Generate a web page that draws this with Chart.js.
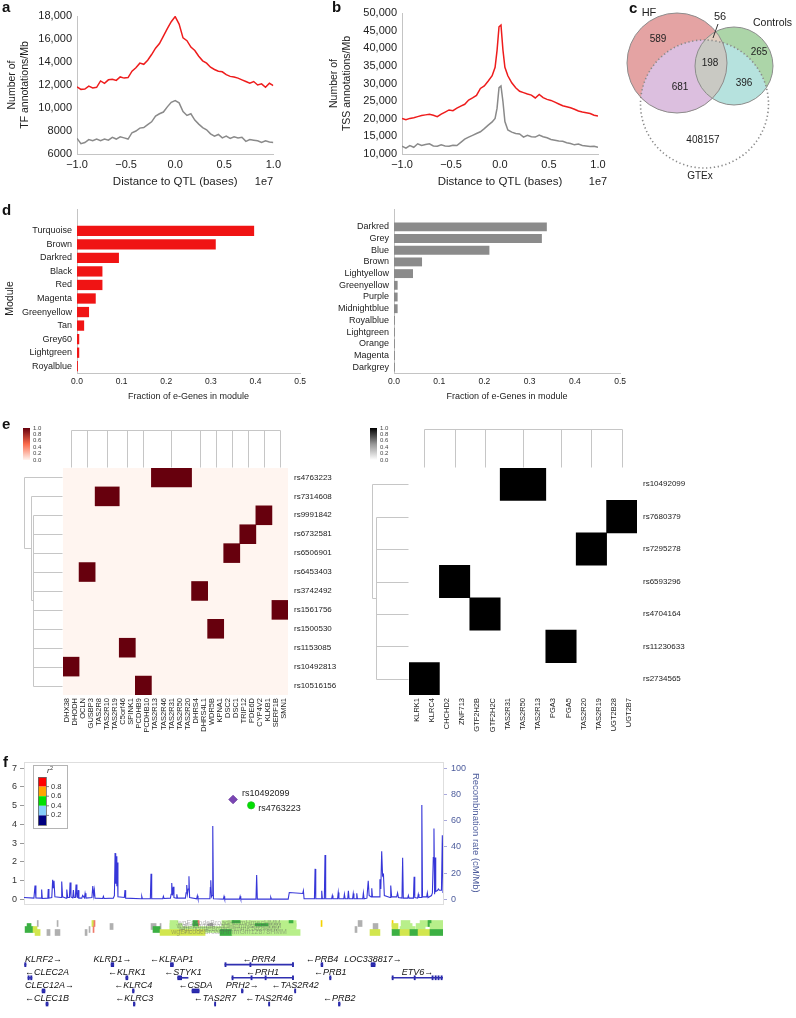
<!DOCTYPE html>
<html>
<head>
<meta charset="utf-8">
<script src="https://cdn.jsdelivr.net/npm/chart.js@4.4.0/dist/chart.umd.min.js"></script>
<style>
  body { margin: 0; background: #fff; }
  #page { position: relative; width: 796px; height: 1018px; overflow: hidden; font-family: "Liberation Sans", Arial, sans-serif; }
  canvas { position: absolute; }
  .lab { position: absolute; font-weight: bold; font-size: 15px; line-height: 15px; color: #111; }
</style>
</head>
<body>
<div id="page">
  <canvas id="cA" width="285" height="200" style="left:0;top:0"></canvas>
  <canvas id="cB" width="315" height="200" style="left:300px;top:0"></canvas>
  <canvas id="cC" width="196" height="200" style="left:600px;top:0"></canvas>
  <canvas id="cD1" width="310" height="205" style="left:0;top:200px"></canvas>
  <canvas id="cD2" width="330" height="205" style="left:300px;top:200px"></canvas>
  <canvas id="cE1" width="340" height="330" style="left:0;top:420px"></canvas>
  <canvas id="cE2" width="380" height="330" style="left:340px;top:420px"></canvas>
  <canvas id="cF" width="485" height="163" style="left:0;top:750px"></canvas>
  <canvas id="cT" width="485" height="30" style="left:0;top:912px"></canvas>
  <canvas id="cG" width="485" height="76" style="left:0;top:942px"></canvas>
  <div class="lab" style="left:2px;top:-1px">a</div>
  <div class="lab" style="left:332px;top:-1px">b</div>
  <div class="lab" style="left:629px;top:0px">c</div>
  <div class="lab" style="left:2px;top:202px">d</div>
  <div class="lab" style="left:2px;top:416px">e</div>
  <div class="lab" style="left:3px;top:754px">f</div>
</div>
<script>
// ---------- data ----------

// a: TF annotations around QTL (distance in units of 1e7 bases)
const distA = [-1.00,-0.96,-0.92,-0.88,-0.84,-0.80,-0.76,-0.72,-0.68,-0.64,-0.60,-0.56,-0.52,-0.48,-0.44,-0.40,-0.36,-0.32,-0.28,-0.24,-0.20,-0.16,-0.12,-0.08,-0.04,0.00,0.04,0.08,0.12,0.16,0.20,0.24,0.28,0.32,0.36,0.40,0.44,0.48,0.52,0.56,0.60,0.64,0.68,0.72,0.76,0.80,0.84,0.88,0.92,0.96,1.00];
const tfQtl = [11840,11620,11650,11900,11750,11800,12350,12150,12450,12500,12400,12700,12600,12650,13200,13500,13900,13800,14150,14650,15200,15600,16250,16900,17500,17950,17300,16100,15850,15300,15000,14500,14100,13900,13550,13350,13200,13150,12900,12750,12700,12600,12450,12300,12150,12300,12000,12100,11800,12150,11950];
const tfRandom = [7360,6900,7000,7250,7150,7300,7150,7300,7200,7450,7300,7500,7400,7300,7850,8000,8250,8300,8550,8800,9300,9500,9650,10100,10500,10650,10450,9700,9350,9500,8950,8600,8300,8100,7750,7550,7700,7400,7550,7350,7500,7400,7450,7100,7250,7200,7150,7000,7150,7050,7000];

// b: TSS annotations around QTL
const distB = [-1.00,-0.96,-0.92,-0.88,-0.84,-0.80,-0.76,-0.72,-0.68,-0.64,-0.60,-0.56,-0.52,-0.48,-0.44,-0.40,-0.36,-0.32,-0.28,-0.24,-0.20,-0.16,-0.12,-0.08,-0.05,-0.03,-0.01,0.01,0.03,0.05,0.08,0.12,0.16,0.20,0.24,0.28,0.32,0.36,0.40,0.44,0.48,0.52,0.56,0.60,0.64,0.68,0.72,0.76,0.80,0.84,0.88,0.92,0.96,1.00];
const tssQtl = [20100,19700,20100,20300,20600,20900,21100,21300,21000,20600,21300,21900,22500,22300,23000,23600,24100,25300,25900,26600,28600,29300,30700,32200,34600,39400,46100,46600,39500,34600,32200,30200,28800,27800,27400,27000,26700,25900,26900,26000,25500,25200,24700,24200,23700,23400,23100,22700,22200,21900,21700,21500,21000,20800];
const tssRandom = [12200,11650,12400,11900,12900,12400,12700,12900,12300,12200,12600,12300,12200,12500,12400,13300,14200,14800,15300,15800,16300,17200,18200,19100,20100,23000,28800,29300,24900,19200,16800,16200,15800,15700,14800,15300,14900,14800,15400,14900,14600,14100,13900,13700,13600,13200,13000,12600,12800,12400,12300,12100,12200,11900];

// c: overlap of e-Genes
const vennNames = ['HF', 'Controls', 'GTEx'];
const vennRegions = ['HF only', 'HF+Controls', 'Controls only', 'all three', 'HF+GTEx', 'Controls+GTEx', 'GTEx only'];
const vennCounts = [589, 56, 265, 198, 681, 396, 408157];

// d: fraction of e-Genes per module
const modHF = ['Turquoise','Brown','Darkred','Black','Red','Magenta','Greenyellow','Tan','Grey60','Lightgreen','Royalblue'];
const fracHF = [0.397, 0.311, 0.094, 0.057, 0.057, 0.042, 0.027, 0.016, 0.005, 0.005, 0.002];
const modCtl = ['Darkred','Grey','Blue','Brown','Lightyellow','Greenyellow','Purple','Midnightblue','Royalblue','Lightgreen','Orange','Magenta','Darkgrey'];
const fracCtl = [0.338, 0.327, 0.211, 0.062, 0.042, 0.008, 0.008, 0.008, 0.002, 0.002, 0.002, 0.002, 0.002];

// e: SNP x gene association
const leftGenes = ['DHX38','DHODH','OCLN','GUSBP3','TAS2R8','TAS2R10','TAS2R19','C5orf46','SPINK1','PCDHB9','PCDHB10','TAS2R13','TAS2R46','TAS2R31','TAS2R50','TAS2R20','DHRS4','DHRS4L1','WDR5B','KPNA1','DSC2','DSC1','TRIP12','PDE6D','CYP4V2','KLKB1','SERF1B','SMN1'];
const leftSnps = ['rs4763223','rs7314608','rs9991842','rs6732581','rs6506901','rs6453403','rs3742492','rs1561756','rs1500530','rs1153085','rs10492813','rs10516156'];
const leftHits = [
  ['TAS2R13','TAS2R46','TAS2R31','TAS2R50','TAS2R20'],
  ['TAS2R8','TAS2R10','TAS2R19'],
  ['CYP4V2','KLKB1'],
  ['TRIP12','PDE6D'],
  ['DSC2','DSC1'],
  ['OCLN','GUSBP3'],
  ['DHRS4','DHRS4L1'],
  ['SERF1B','SMN1'],
  ['WDR5B','KPNA1'],
  ['C5orf46','SPINK1'],
  ['DHX38','DHODH'],
  ['PCDHB9','PCDHB10']
];
const rightGenes = ['KLRK1','KLRC4','CHCHD2','ZNF713','GTF2H2B','GTF2H2C','TAS2R31','TAS2R50','TAS2R13','PGA3','PGA5','TAS2R20','TAS2R19','UGT2B28','UGT2B7'];
const rightSnps = ['rs10492099','rs7680379','rs7295278','rs6593296','rs4704164','rs11230633','rs2734565'];
const rightHits = [
  ['TAS2R31','TAS2R50','TAS2R13'],
  ['UGT2B28','UGT2B7'],
  ['TAS2R20','TAS2R19'],
  ['CHCHD2','ZNF713'],
  ['GTF2H2B','GTF2H2C'],
  ['PGA3','PGA5'],
  ['KLRK1','KLRC4']
];
const scaleTicks = ['1.0','0.8','0.6','0.4','0.2','0.0'];

// f: regional plot, chr12 (Mb)
const snpIds = ['rs10492099', 'rs4763223'];
const snpPos = [10.948, 11.030];
const snpLogP = [5.33, 5.02];
const snpR2 = [1.0, 0.5];
const logPTicks = [0, 1, 2, 3, 4, 5, 6, 7];
const recTicks = [0, 20, 40, 60, 80, 100];
const ldBreaks = ['0.8', '0.6', '0.4', '0.2'];
const recPos = [10.000,10.045,10.050,10.054,10.078,10.080,10.083,10.108,10.110,10.113,10.126,10.130,10.133,10.136,10.140,10.168,10.171,10.175,10.191,10.194,10.198,10.206,10.209,10.213,10.221,10.224,10.227,10.233,10.236,10.240,10.244,10.246,10.249,10.262,10.266,10.274,10.277,10.281,10.308,10.312,10.316,10.319,10.322,10.357,10.360,10.363,10.405,10.410,10.413,10.416,10.419,10.421,10.423,10.426,10.455,10.458,10.461,10.531,10.534,10.537,10.573,10.576,10.579,10.629,10.632,10.635,10.664,10.667,10.670,10.673,10.677,10.680,10.690,10.693,10.696,10.732,10.735,10.738,10.741,10.745,10.748,10.751,10.783,10.786,10.789,10.843,10.845,10.847,10.850,10.853,10.856,10.859,10.904,10.907,10.910,10.977,10.980,10.983,11.052,11.055,11.058,11.116,11.119,11.122,11.198,11.203,11.264,11.267,11.270,11.317,11.320,11.323,11.347,11.350,11.353,11.362,11.365,11.368,11.395,11.398,11.401,11.422,11.425,11.428,11.450,11.453,11.456,11.468,11.471,11.474,11.490,11.493,11.496,11.506,11.509,11.512,11.536,11.539,11.542,11.555,11.558,11.561,11.565,11.574,11.577,11.580,11.610,11.614,11.618,11.622,11.626,11.630,11.634,11.660,11.663,11.667,11.690,11.694,11.698,11.714,11.717,11.720,11.740,11.743,11.746,11.766,11.769,11.772,11.785,11.788,11.791,11.801,11.804,11.807,11.826,11.829,11.832,11.848,11.852,11.856,11.859,11.862,11.864,11.867,11.876,11.879,11.884,11.893,11.897,11.900];
const recRate = [1.5,1.0,10.7,1.2,1.0,7.6,0.8,1.0,7.9,1.0,1.5,15.0,9.0,14.3,2.0,1.5,13.6,2.0,1.0,7.6,1.5,1.5,12.9,2.0,1.2,7.1,1.5,1.5,11.4,2.0,1.5,7.1,1.0,1.0,3.0,1.2,4.7,1.0,1.5,10.3,3.0,7.1,1.0,0.8,2.4,0.8,1.0,3.0,35.3,12.0,32.9,10.0,28.1,2.0,1.5,7.1,1.0,0.5,2.4,0.5,0.5,19.6,0.5,0.5,2.4,0.8,1.0,4.0,12.6,3.0,9.6,1.5,1.0,4.0,1.0,1.0,5.0,11.0,4.0,8.0,17.6,1.5,0.5,2.9,0.5,0.5,9.0,14.7,2.0,3.0,56.0,0.5,0.3,2.4,0.3,0.3,2.4,0.3,0.3,18.6,0.3,0.3,1.7,0.3,0.3,5.3,4.6,6.7,0.5,0.5,23.3,0.5,0.5,6.7,0.5,0.5,33.9,0.5,0.5,3.0,0.5,0.5,5.4,0.5,0.5,4.0,0.5,0.5,6.7,0.5,0.5,4.5,0.5,0.5,4.7,0.5,0.5,5.0,0.5,1.0,8.0,14.3,3.0,2.0,8.6,2.0,2.0,15.4,8.0,36.7,18.0,19.0,3.0,1.5,10.7,2.0,2.0,5.0,1.5,1.0,31.8,1.0,1.0,3.0,1.0,1.0,17.3,1.5,1.0,4.0,1.5,1.5,72.0,2.0,2.0,5.0,1.5,3.0,5.0,32.0,54.0,4.0,32.0,6.0,7.0,8.0,7.0,7.0,49.0,5.0];

// chromatin state tracks
const trackNames = ['wgEncodeBroadHmmHmecHMM','wgEncodeBroadHmmHsmmHMM','wgEncodeBroadHmmK562HMM','wgEncodeBroadHmmGm12878HMM'];
const trackStates = ['Txn elongation','Weak txn','Weak enhancer','Strong enhancer','Repressed','Promoter','Insulator-like'];
const trackRow   = [0,0,0,0,0,0,0,0,0,0,0,0,0,0,0,0, 1,1,1,1,1,1,1,1,1,1,1,1,1,1, 2,2,2,2,2,2,2,2,2,2, 3,3,3,3,3,3,3,3,3,3,3,3,3];
const trackStart = [10.150,10.308,10.317,10.662,10.766,10.789,10.898,10.943,11.202,11.347,11.515,11.669,11.710,11.796,11.832,10.060,
                    10.014,10.390,10.576,10.617,10.662,10.766,10.834,10.898,11.048,11.583,11.669,11.714,11.778,11.841,
                    10.005,10.041,10.295,10.313,10.585,10.662,11.501,11.705,11.760,11.855,
                    10.050,10.104,10.141,10.277,10.617,10.889,10.943,11.569,11.669,11.705,11.750,11.787,11.841];
const trackEnd   = [10.154,10.317,10.322,10.698,10.789,10.794,11.234,10.980,11.220,11.351,11.533,11.673,11.750,11.900,11.846,10.064,
                    10.032,10.404,10.599,10.621,10.717,10.789,10.857,11.234,11.107,11.605,11.696,11.760,11.819,11.900,
                    10.041,10.059,10.299,10.317,10.617,11.206,11.510,11.714,11.774,11.870,
                    10.073,10.118,10.163,10.286,10.821,10.943,11.252,11.614,11.705,11.750,11.787,11.841,11.900];
const trackState = [4,2,5,1,0,5,1,0,0,3,4,3,1,1,0,4,
                    0,4,4,4,1,0,4,1,0,4,2,1,1,1,
                    0,2,4,5,0,1,4,1,1,1,
                    2,4,4,4,2,0,1,2,0,2,0,2,0];

// genes
const geneName   = ['KLRF2','KLRD1','KLRAP1','PRR4','PRB4','LOC338817','CLEC2A','KLRK1','STYK1','PRH1','PRB1','ETV6','CLEC12A','KLRC4','CSDA','PRH2','TAS2R42','CLEC1B','KLRC3','TAS2R7','TAS2R46','PRB2'];
const geneRow    = [0,0,0,0,0,0, 1,1,1,1,1,1, 2,2,2,2,2, 3,3,3,3,3];
const geneStrand = [1,1,-1,-1,-1,1, -1,-1,-1,-1,-1,1, 1,-1,-1,1,-1, -1,-1,-1,-1,-1];
const geneStart  = [10.003,10.395,10.664,10.911,11.347,11.574, 10.018,10.462,10.697,10.943,11.386,11.669, 10.082,10.492,10.762,10.986,11.227, 10.100,10.496,10.864,11.109,11.426];
const geneEnd    = [10.009,10.407,10.677,11.220,11.355,11.592, 10.036,10.471,10.744,11.220,11.392,11.900, 10.095,10.499,10.794,10.993,11.232, 10.109,10.503,10.868,11.113,11.433];
const exonGene   = [0,1,2,3,3,3,4,5,6,6,7,8,9,9,9,9,10,11,11,11,11,11,11,12,13,14,15,16,17,18,19,20,21];
const exonStart  = [10.003,10.395,10.664,10.911,11.024,11.217,11.347,11.574,10.018,10.030,10.462,10.697,10.943,11.029,11.093,11.217,11.386,11.669,11.769,11.850,11.864,11.877,11.891,10.082,10.492,10.762,10.986,11.227,10.100,10.496,10.864,11.109,11.426];
const exonEnd    = [10.009,10.407,10.677,10.914,11.027,11.220,11.355,11.592,10.024,10.036,10.471,10.715,10.946,11.032,11.096,11.220,11.392,11.672,11.772,11.853,11.867,11.880,11.894,10.095,10.499,10.794,10.993,11.232,10.109,10.503,10.868,11.113,11.433];

// ---------- setup ----------
const FONT = '"Liberation Sans", Arial, Helvetica, sans-serif';
Chart.defaults.font.family = FONT;
Chart.defaults.color = '#222';
Chart.defaults.animation = false;
Chart.defaults.responsive = false;
Chart.defaults.devicePixelRatio = 1;
Chart.defaults.layout.autoPadding = false;
Chart.defaults.plugins.legend.display = false;
Chart.defaults.plugins.tooltip.enabled = false;

const AXIS = '#c4c4c4';
function fit(size) {
  return function (s) { if (s.isHorizontal()) s.height = size; else s.width = size; };
}
const minus = v => (v < 0 ? '\u2212' + Math.abs(v).toFixed(1) : v.toFixed(1));
const comma = v => (v >= 10000 ? v.toLocaleString('en-US') : String(v));

// "1e7" offset label under the x axis
const offsetLabel = {
  id: 'offLab',
  afterDraw(ch, args, o) {
    const c = ch.ctx;
    c.save();
    c.font = '11px ' + FONT; c.fillStyle = '#222';
    c.textAlign = 'center'; c.textBaseline = 'middle';
    c.fillText('1e7', o.x, 182);
    c.restore();
  }
};

function distAxis() {
  return {
    type: 'linear', min: -1, max: 1,
    ticks: { stepSize: 0.5, callback: minus, font: { size: 11 }, padding: 4 },
    grid: { display: false, drawTicks: false },
    border: { color: AXIS },
    title: { display: true, text: 'Distance to QTL (bases)', font: { size: 11.5 }, padding: { top: 0, bottom: 11 } },
    afterFit: fit(46)
  };
}
function lineSet(xs, ys, color) {
  return { data: xs.map((d, i) => ({ x: d, y: ys[i] })), borderColor: color, borderWidth: 1.5, pointRadius: 0, tension: 0 };
}

// ---------- a ----------
new Chart(document.getElementById('cA'), {
  type: 'line',
  data: { datasets: [lineSet(distA, tfQtl, '#ee1c1c'), lineSet(distA, tfRandom, '#8a8a8a')] },
  options: {
    layout: { padding: { top: 16, right: 7 } },
    plugins: { offLab: { x: 264 } },
    scales: {
      x: distAxis(),
      y: {
        min: 6000, max: 18000,
        ticks: { stepSize: 2000, callback: comma, font: { size: 11 }, padding: 5 },
        grid: { display: false, drawTicks: false },
        border: { color: AXIS },
        title: { display: true, text: ['Number of', 'TF annotations/Mb'], font: { size: 10.5 }, padding: { top: 6 } },
        afterFit: fit(77)
      }
    }
  },
  plugins: [offsetLabel]
});

// ---------- b ----------
new Chart(document.getElementById('cB'), {
  type: 'line',
  data: { datasets: [lineSet(distB, tssQtl, '#ee1c1c'), lineSet(distB, tssRandom, '#8a8a8a')] },
  options: {
    layout: { padding: { top: 13, right: 17 } },
    plugins: { offLab: { x: 298 } },
    scales: {
      x: distAxis(),
      y: {
        min: 10000, max: 50000,
        ticks: { stepSize: 5000, callback: comma, font: { size: 11 }, padding: 5 },
        grid: { display: false, drawTicks: false },
        border: { color: AXIS },
        title: { display: true, text: ['Number of', 'TSS annotations/Mb'], font: { size: 10.5 }, padding: { top: 28 } },
        afterFit: fit(102)
      }
    }
  },
  plugins: [offsetLabel]
});

// ---------- c (Venn) ----------
// circle layout in canvas units: HF, Controls, GTEx
const vennCx = [77, 134, 104.5], vennCy = [63, 66, 104], vennR = [50, 39, 64];
const vennLabX = [58, 120, 159, 110, 80, 144, 103], vennLabY = [39, 17, 52, 63, 87, 83, 140];
const vennFill = ['#e4a3a3', '#acd5a8', '#dcbfdf', '#b6e2de', '#e2cdbf', '#c9c9c3'];
function vennCircles(ch) {
  const xs = ch.scales.x, ys = ch.scales.y;
  return vennCx.map((cx, i) => ({
    x: xs.getPixelForValue(cx), y: ys.getPixelForValue(vennCy[i]),
    r: Math.abs(xs.getPixelForValue(vennR[i]) - xs.getPixelForValue(0))
  }));
}
const vennDraw = {
  id: 'vennDraw',
  beforeDatasetsDraw(ch) {
    const c = ch.ctx, [H, K, G] = vennCircles(ch);
    const circ = o => { c.beginPath(); c.arc(o.x, o.y, o.r, 0, Math.PI * 2); };
    c.save();
    circ(H); c.fillStyle = vennFill[0]; c.fill();
    circ(K); c.fillStyle = vennFill[1]; c.fill();
    c.save(); circ(G); c.clip();
    circ(H); c.fillStyle = vennFill[2]; c.fill();
    circ(K); c.fillStyle = vennFill[3]; c.fill();
    c.restore();
    c.save(); circ(H); c.clip();
    circ(K); c.fillStyle = vennFill[4]; c.fill();
    c.clip(); circ(G); c.fillStyle = vennFill[5]; c.fill();
    c.restore();
    c.restore();
  },
  afterDatasetsDraw(ch) {
    const c = ch.ctx, G = vennCircles(ch)[2], xs = ch.scales.x, ys = ch.scales.y;
    c.save();
    c.setLineDash([1.3, 2.6]); c.lineWidth = 1.6; c.strokeStyle = '#8a8a8a';
    c.beginPath(); c.arc(G.x, G.y, G.r, 0, Math.PI * 2); c.stroke();
    c.setLineDash([]);
    c.lineWidth = 1; c.strokeStyle = '#333';
    c.beginPath(); c.moveTo(xs.getPixelForValue(118), ys.getPixelForValue(24)); c.lineTo(xs.getPixelForValue(113), ys.getPixelForValue(38)); c.stroke();
    c.fillStyle = '#222'; c.textAlign = 'center'; c.textBaseline = 'middle';
    vennCounts.forEach((n, i) => {
      c.font = (i === 1 ? '11px ' : '10px ') + FONT;
      c.fillText(String(n), xs.getPixelForValue(vennLabX[i]), ys.getPixelForValue(vennLabY[i]));
    });
    c.font = '11px ' + FONT;
    c.fillText(vennNames[0], xs.getPixelForValue(49), ys.getPixelForValue(13));
    c.textAlign = 'left'; c.font = '10.5px ' + FONT;
    c.fillText(vennNames[1], xs.getPixelForValue(153), ys.getPixelForValue(23));
    c.textAlign = 'center'; c.font = '10px ' + FONT;
    c.fillText(vennNames[2], xs.getPixelForValue(100), ys.getPixelForValue(176));
    c.restore();
  }
};
new Chart(document.getElementById('cC'), {
  type: 'bubble',
  data: { datasets: [{
    data: [0, 1].map(i => ({ x: vennCx[i], y: vennCy[i], r: vennR[i] })),
    backgroundColor: 'rgba(0,0,0,0)', borderColor: '#8c8c8c', borderWidth: 1, clip: false
  }] },
  options: {
    layout: { padding: 0, autoPadding: false },
    scales: {
      x: { type: 'linear', min: 0, max: 196, display: false },
      y: { type: 'linear', min: 0, max: 200, reverse: true, display: false }
    }
  },
  plugins: [vennDraw]
});

// ---------- d ----------
const axisTop = {
  id: 'axisTop',
  afterDraw(ch, args, o) {
    const c = ch.ctx, a = ch.chartArea;
    c.save(); c.strokeStyle = AXIS; c.lineWidth = 1;
    c.beginPath(); c.moveTo(Math.round(a.left) + 0.5, a.top - o.ext); c.lineTo(Math.round(a.left) + 0.5, a.top + 1); c.stroke();
    c.restore();
  }
};
function moduleChart(id, labels, values, color, yWidth, padTop, withTitle) {
  new Chart(document.getElementById(id), {
    type: 'bar',
    data: { labels: labels, datasets: [{ data: values, backgroundColor: color, barPercentage: 0.76, categoryPercentage: 1 }] },
    options: {
      indexAxis: 'y',
      layout: { padding: { top: padTop, right: 8 } },
      plugins: { axisTop: { ext: padTop - 9 } },
      scales: {
        x: {
          min: 0, max: 0.5,
          ticks: { stepSize: 0.1, callback: v => v.toFixed(1), font: { size: 8.5 }, padding: 4 },
          grid: { display: false, drawTicks: false },
          border: { color: AXIS },
          title: { display: true, text: 'Fraction of e-Genes in module', font: { size: 9 }, padding: { top: 0, bottom: 3 } },
          afterFit: fit(32)
        },
        y: {
          ticks: { autoSkip: false, font: { size: 9 }, padding: 5 },
          grid: { display: false, drawTicks: false },
          border: { color: AXIS },
          title: { display: withTitle, text: 'Module', font: { size: 10.5 }, padding: { top: 4 } },
          afterFit: fit(yWidth)
        }
      }
    },
    plugins: [axisTop]
  });
}
moduleChart('cD1', modHF, fracHF, '#f01414', 77, 24, true);
moduleChart('cD2', modCtl, fracCtl, '#8b8b8b', 94, 21, false);

// ---------- e ----------
function heatDecor(cfg) {
  return {
    id: 'heatDecor',
    beforeDatasetsDraw(ch) {
      const c = ch.ctx, a = ch.chartArea;
      c.save(); c.fillStyle = cfg.low; c.fillRect(a.left, a.top, a.right - a.left, a.bottom - a.top); c.restore();
    },
    afterDraw(ch) {
      const c = ch.ctx, a = ch.chartArea, xs = ch.scales.x, ys = ch.scales.y;
      const L = (x1, y1, x2, y2) => {
        c.beginPath();
        c.moveTo(Math.round(x1) + 0.5, Math.round(y1) + 0.5);
        c.lineTo(Math.round(x2) + 0.5, Math.round(y2) + 0.5);
        c.stroke();
      };
      c.save(); c.strokeStyle = '#c6c6c6'; c.lineWidth = 1;
      // column dendrogram (one leaf per SNP block)
      const cx = cfg.hits.map(h => {
        const idx = h.map(g => cfg.genes.indexOf(g));
        return xs.getPixelForValue((Math.min(...idx) + Math.max(...idx) + 1) / 2);
      });
      const top = a.top - cfg.colH;
      cx.forEach(x => L(x, a.top - 1, x, top));
      L(Math.min(...cx), top, Math.max(...cx), top);
      // row dendrogram
      const ry = cfg.snps.map((s, i) => ys.getPixelForValue(i));
      const n = ry.length, k0 = cfg.singles;
      const x0 = a.left - cfg.heights[0];
      for (let i = k0; i < n; i++) L(x0, ry[i], a.left - 1, ry[i]);
      L(x0, ry[k0], x0, ry[n - 1]);
      let nodeY = (ry[k0] + ry[n - 1]) / 2, nodeX = x0;
      for (let k = k0 - 1; k >= 0; k--) {
        const hx = a.left - cfg.heights[k0 - k];
        L(hx, ry[k], a.left - 1, ry[k]);
        L(hx, nodeY, nodeX, nodeY);
        L(hx, ry[k], hx, nodeY);
        nodeY = (ry[k] + nodeY) / 2; nodeX = hx;
      }
      // colour key
      const [bx, by, bw, bh] = cfg.cb;
      const g = c.createLinearGradient(0, by + bh, 0, by);
      g.addColorStop(0, cfg.low); g.addColorStop(0.5, cfg.mid); g.addColorStop(1, cfg.high);
      c.fillStyle = g; c.fillRect(bx, by, bw, bh);
      c.fillStyle = '#444'; c.font = '6px ' + FONT; c.textAlign = 'left'; c.textBaseline = 'middle';
      scaleTicks.forEach((t, i) => c.fillText(t, bx + bw + 3, by + i * bh / (scaleTicks.length - 1)));
      c.restore();
    }
  };
}
function heatChart(id, genes, snps, hits, color, padLeft, rightW, cfg) {
  const blocks = hits.map((h, r) => {
    const idx = h.map(g => genes.indexOf(g));
    return { x: [Math.min(...idx), Math.max(...idx) + 1], y: snps[r] };
  });
  new Chart(document.getElementById(id), {
    type: 'bar',
    data: { labels: snps, datasets: [{ data: blocks, backgroundColor: color, borderWidth: 0, barPercentage: 1, categoryPercentage: 1 }] },
    options: {
      indexAxis: 'y',
      layout: { padding: { left: padLeft, top: 48 } },
      scales: {
        x: {
          type: 'linear', min: 0, max: genes.length,
          afterBuildTicks: s => { s.ticks = genes.map((g, i) => ({ value: i + 0.5 })); },
          ticks: { autoSkip: false, minRotation: 90, maxRotation: 90, callback: (v, i) => genes[i], font: { size: 7.5 }, padding: 3, color: '#222' },
          grid: { display: false, drawTicks: false },
          border: { display: false },
          afterFit: fit(55)
        },
        y: {
          type: 'category', position: 'right',
          ticks: { autoSkip: false, font: { size: 8 }, padding: 6, color: '#222' },
          grid: { display: false, drawTicks: false },
          border: { display: false },
          afterFit: fit(rightW)
        }
      }
    },
    plugins: [heatDecor(Object.assign({ genes: genes, snps: snps, hits: hits }, cfg))]
  });
}
heatChart('cE1', leftGenes, leftSnps, leftHits, '#67000d', 63, 52,
  { low: '#fff5f0', mid: '#fb6a4a', high: '#67000d', colH: 38, singles: 2, heights: [30, 32, 39], cb: [23, 8, 7, 32] });
heatChart('cE2', rightGenes, rightSnps, rightHits, '#000000', 69, 83,
  { low: '#ffffff', mid: '#969696', high: '#000000', colH: 39, singles: 1, heights: [33, 37], cb: [30, 8, 7, 32] });

// ---------- f ----------
const ldColors = ['#ff0000', '#ffa500', '#00e000', '#87cefa', '#000080'];
const ldColor = r => ldColors[r >= 0.8 ? 0 : r >= 0.6 ? 1 : r >= 0.4 ? 2 : r >= 0.2 ? 3 : 4];
const fDecor = {
  id: 'fDecor',
  beforeDatasetsDraw(ch) {
    const c = ch.ctx, a = ch.chartArea;
    c.save(); c.strokeStyle = '#dedede'; c.lineWidth = 1;
    c.strokeRect(Math.round(a.left) + 0.5, Math.round(a.top) + 0.5, Math.round(a.right - a.left), Math.round(a.bottom - a.top));
    c.restore();
  },
  afterDatasetsDraw(ch) {
    const c = ch.ctx, a = ch.chartArea, xs = ch.scales.x, ys = ch.scales.y;
    c.save();
    // SNP labels
    c.font = '9px ' + FONT; c.fillStyle = '#222'; c.textBaseline = 'middle'; c.textAlign = 'left';
    const dx = [9, 7], dy = [-6, 3];
    snpIds.forEach((s, i) => c.fillText(s, xs.getPixelForValue(snpPos[i]) + dx[i], ys.getPixelForValue(snpLogP[i]) + dy[i]));
    // r2 key
    const bx = a.left + 9, by = a.top + 3;
    c.fillStyle = '#fff'; c.strokeStyle = '#b4b4b4';
    c.fillRect(bx, by, 34, 63); c.strokeRect(bx + 0.5, by + 0.5, 34, 63);
    const h = 9.6;
    ldColors.forEach((col, i) => {
      c.fillStyle = col; c.fillRect(bx + 5, by + 12 + i * h, 8, h);
    });
    c.strokeStyle = '#666'; c.lineWidth = 0.8; c.strokeRect(bx + 5.5, by + 12.5, 8, h * 5);
    c.fillStyle = '#333'; c.font = '7.5px ' + FONT;
    ldBreaks.forEach((t, i) => {
      const yy = by + 12 + (i + 1) * h;
      c.beginPath(); c.moveTo(bx + 13, yy); c.lineTo(bx + 16, yy); c.stroke();
      c.fillText(t, bx + 18, yy);
    });
    c.font = 'italic 8px ' + FONT; c.fillText('r', bx + 14, by + 6);
    c.font = '5.5px ' + FONT; c.fillText('2', bx + 17, by + 3.5);
    c.restore();
  }
};
new Chart(document.getElementById('cF'), {
  type: 'scatter',
  data: { datasets: [
    {
      data: snpPos.map((p, i) => ({ x: p, y: snpLogP[i] })), yAxisID: 'y', order: 0,
      pointStyle: ['rectRot', 'circle'], pointRadius: [4.3, 3.6],
      backgroundColor: ['#7a45b3', ldColor(snpR2[1])], borderColor: ['#6a3aa0', '#22c022'], borderWidth: 0.8
    },
    {
      type: 'line', data: recPos.map((p, i) => ({ x: p, y: recRate[i] })), yAxisID: 'y2', order: 1,
      borderColor: '#3636d8', borderWidth: 1.1, pointRadius: 0, tension: 0
    }
  ] },
  options: {
    layout: { padding: { top: 12, bottom: 2 } },
    scales: {
      x: { type: 'linear', min: 10.0, max: 11.9, display: false },
      y: {
        position: 'left', min: -0.22, max: 7.33,
        afterBuildTicks: s => { s.ticks = logPTicks.map(v => ({ value: v })); },
        ticks: { font: { size: 9 }, color: '#333', padding: 3 },
        grid: { drawOnChartArea: false, tickLength: 4, color: '#999' },
        border: { color: '#cfcfcf' },
        afterFit: fit(24)
      },
      y2: {
        position: 'right', min: -3.14, max: 104.71,
        afterBuildTicks: s => { s.ticks = recTicks.map(v => ({ value: v })); },
        ticks: { font: { size: 9 }, color: '#4d5c9c', padding: 4 },
        grid: { drawOnChartArea: false, tickLength: 4, color: '#a9a9dc' },
        border: { color: '#b4b4e4' },
        title: { display: true, text: 'Recombination rate (cM/Mb)', font: { size: 9.5 }, color: '#4d5c9c' },
        afterFit: fit(42)
      }
    }
  },
  plugins: [fDecor]
});

// chromatin tracks
const stateColors = ['#3cb043', '#b8ef8a', '#d2e64e', '#f5d300', '#b0b0b0', '#f07a6a', '#8fb0ff'];
const trackText = {
  id: 'trackText',
  afterDatasetsDraw(ch) {
    const c = ch.ctx, xs = ch.scales.x, ys = ch.scales.y;
    c.save(); c.font = '7px ' + FONT; c.fillStyle = 'rgba(90,90,90,0.45)';
    c.textAlign = 'center'; c.textBaseline = 'middle';
    trackNames.forEach((t, i) => c.fillText(t, xs.getPixelForValue(10.93), ys.getPixelForValue(i)));
    c.restore();
  }
};
new Chart(document.getElementById('cT'), {
  type: 'bar',
  data: { datasets: [{
    data: trackStart.map((s, i) => ({ x: [s, trackEnd[i]], y: trackRow[i] })),
    backgroundColor: trackState.map(k => stateColors[k]),
    barThickness: 6, minBarLength: 1, borderWidth: 0
  }] },
  options: {
    indexAxis: 'y',
    layout: { padding: { left: 24, right: 42, top: 4, bottom: 2 } },
    scales: {
      x: { type: 'linear', min: 10.0, max: 11.9, display: false },
      y: { type: 'linear', min: -0.5, max: 3.5, reverse: true, display: false }
    }
  },
  plugins: [trackText]
});

// genes
const geneLabels = {
  id: 'geneLabels',
  afterDatasetsDraw(ch) {
    const c = ch.ctx, xs = ch.scales.x, ys = ch.scales.y, a = ch.chartArea;
    c.save(); c.font = 'italic 9px ' + FONT; c.fillStyle = '#111'; c.textBaseline = 'alphabetic';
    geneName.forEach((g, i) => {
      const t = geneStrand[i] < 0 ? '\u2190' + g : g + '\u2192';
      const w = c.measureText(t).width;
      const mid = xs.getPixelForValue((geneStart[i] + geneEnd[i]) / 2);
      const l = Math.max(a.left + 1, Math.min(mid - w / 2, a.right - w));
      c.fillText(t, l, ys.getPixelForValue(geneRow[i]) - 3);
    });
    c.restore();
  }
};
new Chart(document.getElementById('cG'), {
  type: 'bar',
  data: { datasets: [
    {
      data: geneStart.map((s, i) => ({ x: [s, geneEnd[i]], y: geneRow[i] })),
      backgroundColor: '#3030b0', barThickness: 1, grouped: false, borderWidth: 0
    },
    {
      data: exonStart.map((s, i) => ({ x: [s, exonEnd[i]], y: geneRow[exonGene[i]] })),
      backgroundColor: '#2424a8', barThickness: 4, grouped: false, minBarLength: 1.2, borderWidth: 0
    }
  ] },
  options: {
    indexAxis: 'y',
    layout: { padding: { left: 24, right: 42, top: 0, bottom: 0 } },
    scales: {
      x: { type: 'linear', min: 10.0, max: 11.9, display: false },
      y: { type: 'linear', min: -0.763, max: 3.1, reverse: true, display: false }
    }
  },
  plugins: [geneLabels]
});
</script>
</body>
</html>
